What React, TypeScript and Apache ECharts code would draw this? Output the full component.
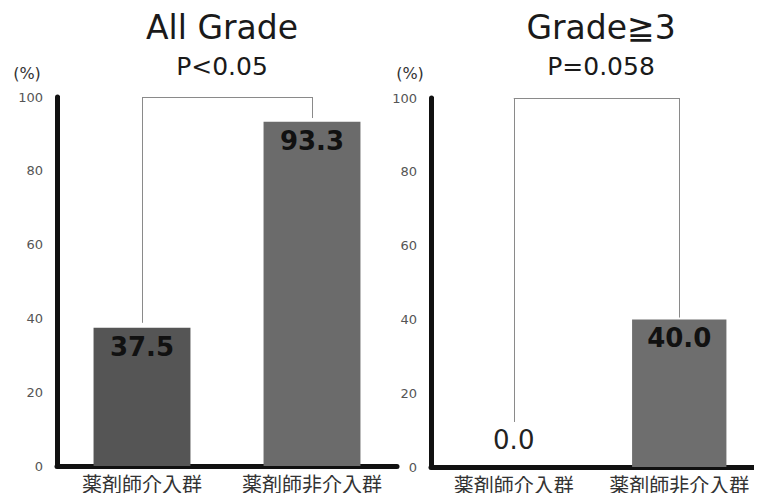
import React, { useEffect, useRef } from "react";
import * as echarts from "echarts";

// Incidence (%) per group, two panels
const categories = ["薬剤師介入群", "薬剤師非介入群"];
const allGradeValues = [37.5, 93.3];
const grade3Values = [0.0, 40.0];
const panelTitles = ["All Grade", "Grade≧3"];
const pValues = ["P<0.05", "P=0.058"];
const yTicks = [0, 20, 40, 60, 80, 100];

// bracket heights (value units) for the significance brackets
const bracketTop = 100;
const allGradeBracketEnds = [38.8, 94.3];
const grade3BracketEnds = [12.2, 40.5];

const JP = '"Noto Sans CJK JP", "Noto Sans", sans-serif';
const LAT = '"DejaVu Sans", "Noto Sans CJK JP", sans-serif';
const NUM = '"DejaVu Sans", Verdana, sans-serif';

function bracket(ends: number[]) {
  return [
    [{ coord: [0, ends[0]] }, { coord: [0, bracketTop] }],
    [{ coord: [0, bracketTop] }, { coord: [1, bracketTop] }],
    [{ coord: [1, bracketTop] }, { coord: [1, ends[1]] }],
  ];
}

function yAxisFor(gridIndex: number) {
  return {
    type: "value",
    gridIndex,
    min: yTicks[0],
    max: yTicks[yTicks.length - 1],
    interval: 20,
    axisLine: { show: true, lineStyle: { color: "#111", width: 5 } },
    axisTick: { show: true, inside: true, length: 3, lineStyle: { color: "#111", width: 2 } },
    splitLine: { show: false },
    axisLabel: { color: "#555", fontSize: 13, fontFamily: NUM, margin: 14 },
  };
}

function xAxisFor(gridIndex: number) {
  return {
    type: "category",
    gridIndex,
    data: categories,
    axisLine: { show: true, lineStyle: { color: "#111", width: 5 } },
    axisTick: { show: false },
    axisLabel: { color: "#333", fontSize: 20, fontFamily: JP, margin: 7, interval: 0 },
  };
}

function barSeries(idx: number, values: number[], colors: string[], ends: number[]) {
  return {
    type: "bar",
    xAxisIndex: idx,
    yAxisIndex: idx,
    barWidth: "57%",
    data: values.map((v, i) => {
      const zero = v === 0;
      return {
        value: v,
        itemStyle: { color: colors[i] },
        label: zero
          ? { position: "top", distance: 14, fontWeight: "normal", color: "#222" }
          : undefined,
      };
    }),
    label: {
      show: true,
      position: "insideTop",
      distance: 6,
      formatter: (p: any) => Number(p.value).toFixed(1),
      fontFamily: NUM,
      fontSize: 26,
      fontWeight: "bold",
      color: "#111",
    },
    markLine: {
      silent: true,
      symbol: "none",
      label: { show: false },
      emphasis: { disabled: true },
      lineStyle: { color: "#8a8a8a", width: 1, type: "solid" },
      data: bracket(ends),
    },
  };
}

export default function App() {
  const ref = useRef<HTMLDivElement>(null);

  useEffect(() => {
    if (!ref.current) return;
    const chart = echarts.init(ref.current, null, { renderer: "svg" });
    const centers = [222, 601];
    const pctX = [27, 410];
    chart.setOption({
      animation: false,
      backgroundColor: "#fff",
      grid: [
        { left: 57, top: 97, width: 340, height: 369 },
        { left: 431, top: 98, width: 340, height: 369 },
      ],
      xAxis: [xAxisFor(0), xAxisFor(1)],
      yAxis: [yAxisFor(0), yAxisFor(1)],
      series: [
        barSeries(0, allGradeValues, ["#555555", "#6b6b6b"], allGradeBracketEnds),
        barSeries(1, grade3Values, ["#6b6b6b", "#6e6e6e"], grade3BracketEnds),
      ],
      graphic: [
        ...panelTitles.map((t, i) => ({
          type: "text",
          x: centers[i],
          y: 27,
          style: {
            text: t,
            fill: "#1a1a1a",
            font: `33px ${LAT}`,
            textAlign: "center",
            textVerticalAlign: "middle",
          },
        })),
        ...pValues.map((t, i) => ({
          type: "text",
          x: centers[i],
          y: 66,
          style: {
            text: t,
            fill: "#1a1a1a",
            font: `25px ${LAT}`,
            textAlign: "center",
            textVerticalAlign: "middle",
          },
        })),
        ...pctX.map((x) => ({
          type: "text",
          x,
          y: 73,
          style: {
            text: "(%)",
            fill: "#333",
            font: `16px ${LAT}`,
            textAlign: "center",
            textVerticalAlign: "middle",
          },
        })),
      ],
    });
    return () => chart.dispose();
  }, []);

  return <div ref={ref} style={{ width: 762, height: 501, margin: -8, overflow: "hidden" }} />;
}
